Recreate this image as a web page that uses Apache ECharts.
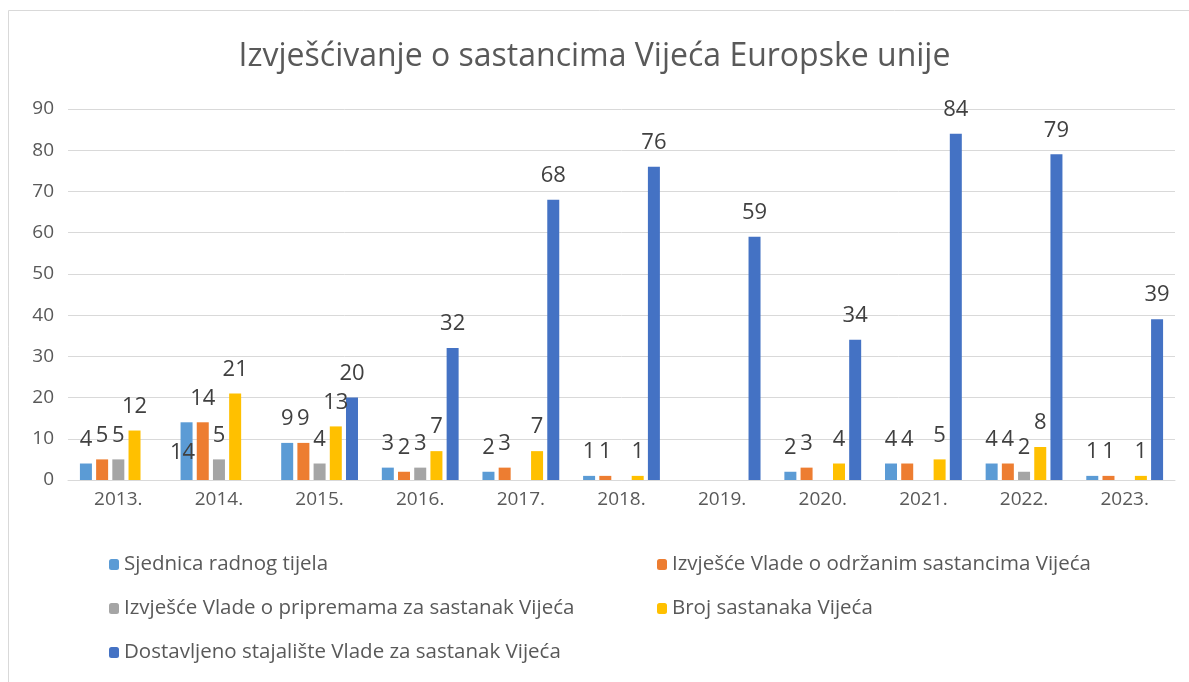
<!DOCTYPE html>
<html lang="hr">
<head>
    <meta charset="utf-8">
    <script src="https://cdn.jsdelivr.net/npm/echarts@6/dist/echarts.min.js"></script>
    <style>
        html, body { margin: 0; padding: 0; background: #fff; }
        #main { width: 1189px; height: 682px; }
    </style>
</head>
<body>
<div id="main"></div>
<script>
    // podaci s grafa
    var years = ['2013.', '2014.', '2015.', '2016.', '2017.', '2018.', '2019.', '2020.', '2021.', '2022.', '2023.'];
    var sjednica = [4, 14, 9, 3, 2, 1, null, 2, 4, 4, 1];
    var odrzani = [5, 14, 9, 2, 3, 1, null, 3, 4, 4, 1];
    var pripreme = [5, 5, 4, 3, null, null, null, null, null, 2, null];
    var sastanci = [12, 21, 13, 7, 7, 1, null, 4, 5, 8, 1];
    var stajaliste = [null, null, 20, 32, 68, 76, 59, 34, 84, 79, 39];

    var names = [
        'Sjednica radnog tijela',
        'Izvješće Vlade o održanim sastancima Vijeća',
        'Izvješće Vlade o pripremama za sastanak Vijeća',
        'Broj sastanaka Vijeća',
        'Dostavljeno stajalište Vlade za sastanak Vijeća'
    ];
    var colors = ['#5B9BD5', '#ED7D31', '#A5A5A5', '#FFC000', '#4472C4'];
    var font = 'Open Sans';

    function makeSeries(i, values) {
        return {
            name: names[i],
            type: 'bar',
            barWidth: 12,
            barGap: '35%',
            itemStyle: { color: colors[i] },
            label: {
                show: true,
                position: 'top',
                distance: 13,
                color: '#404040',
                fontSize: 22,
                fontFamily: font
            },
            data: values.map(function (v) { return v; })
        };
    }

    var series = [
        makeSeries(0, sjednica),
        makeSeries(1, odrzani),
        makeSeries(2, pripreme),
        makeSeries(3, sastanci),
        makeSeries(4, stajaliste)
    ];
    // u Excelu je oznaka "14" za 2014. pomaknuta na stupac
    series[0].data[1] = {
        value: sjednica[1],
        label: { position: 'inside', offset: [-4, 2] }
    };

    var legendText = { fontSize: 20.5, color: '#595959', fontFamily: font };

    var myChart = echarts.init(document.getElementById('main'));
    myChart.setOption({
        animation: false,
        color: colors,
        textStyle: { fontFamily: font },
        title: {
            text: 'Izvješćivanje o sastancima Vijeća Europske unije',
            left: 'center',
            top: 36,
            textStyle: { fontSize: 32, fontWeight: 'normal', color: '#595959', fontFamily: font }
        },
        graphic: [{
            type: 'rect',
            shape: { x: 8.5, y: 10.5, width: 1200, height: 700 },
            style: { fill: 'none', stroke: '#D9D9D9', lineWidth: 1 },
            silent: true
        }],
        legend: [{
            data: [names[0], names[2], names[4]],
            orient: 'vertical',
            left: 104,
            top: 549,
            itemWidth: 10,
            itemHeight: 11,
            itemGap: 23,
            textStyle: legendText
        }, {
            data: [names[1], names[3]],
            orient: 'vertical',
            left: 652,
            top: 549,
            itemWidth: 10,
            itemHeight: 11,
            itemGap: 23,
            textStyle: legendText
        }],
        grid: { left: 68, right: 14, top: 109, bottom: 202 },
        xAxis: {
            type: 'category',
            data: years,
            axisLine: { lineStyle: { color: '#D9D9D9' } },
            axisTick: { show: false },
            axisLabel: { color: '#595959', fontSize: 19, margin: 10, fontFamily: font }
        },
        yAxis: {
            type: 'value',
            min: 0,
            max: 90,
            interval: 10,
            axisLine: { show: false },
            axisTick: { show: false },
            splitLine: { lineStyle: { color: '#D9D9D9' } },
            axisLabel: { color: '#595959', fontSize: 19, margin: 14, fontFamily: font }
        },
        series: series
    });
</script>
</body>
</html>
